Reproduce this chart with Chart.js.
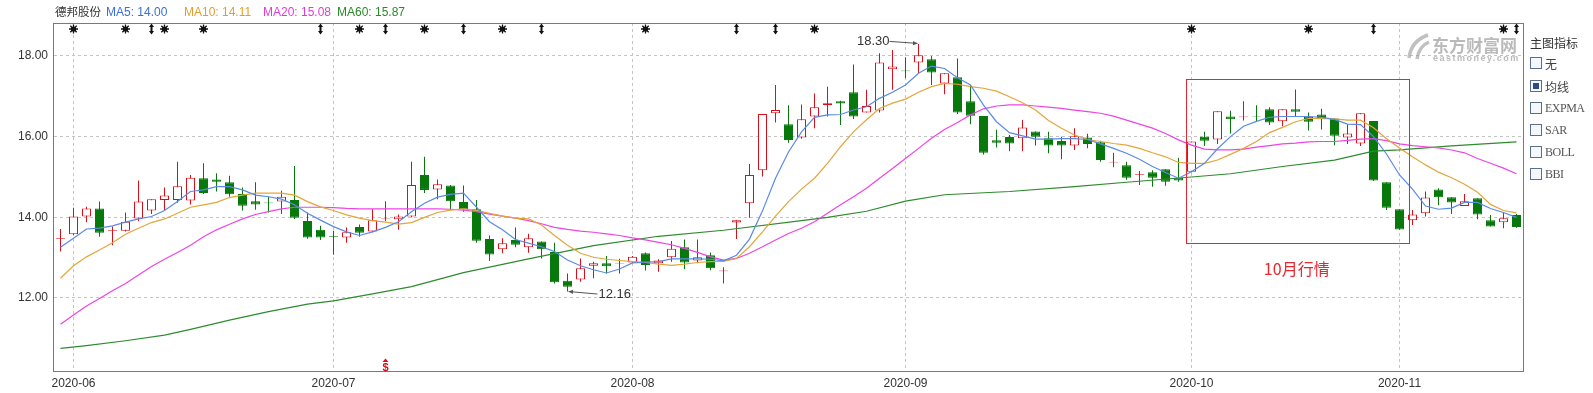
<!DOCTYPE html>
<html>
<head>
<meta charset="utf-8">
<script src="https://cdn.jsdelivr.net/npm/chart.js@4.4.1/dist/chart.umd.min.js"></script>
<style>
  html, body { margin: 0; padding: 0; background: #fff; }
  #wrap { position: relative; width: 1593px; height: 393px; font-family: "Liberation Sans", Arial, "Noto Sans CJK SC", sans-serif; }
  #c { position: absolute; left: 0; top: 0; }
  .lg { position: absolute; top: 5px; font-size: 12px; white-space: nowrap; line-height: 14px; }
  #panel { position: absolute; left: 1530px; top: 0; width: 63px; color: #333; }
  #panel .title { position: absolute; top: 34px; left: 0; font: 12px "Noto Sans CJK SC", sans-serif; white-space: nowrap; }
  #panel .row { position: absolute; left: 0; height: 12px; white-space: nowrap; }
  #panel .box { position: absolute; left: 0; top: 0; width: 10px; height: 10px; border: 1px solid #5a6f8e; background: #f4f7fb; }
  #panel .box.on::after { content: ""; position: absolute; left: 2px; top: 2px; width: 6px; height: 6px; background: #2d4a86; }
  #panel .txt { position: absolute; left: 15px; top: -2px; font: 12px "Noto Sans CJK SC", sans-serif; color: #444; }
  #panel .txt.en { font: 12px "Liberation Serif", serif; top: -1px; color: #555; letter-spacing: -0.5px; }
</style>
</head>
<body>
<div id="wrap">
  <canvas id="c" width="1593" height="393"></canvas>
  <div class="lg" style="left:55px;color:#333;font-family:'Noto Sans CJK SC';font-size:11.5px;top:4px">德邦股份</div>
  <div class="lg" style="left:106px;color:#3a6fd8">MA5: 14.00</div>
  <div class="lg" style="left:184px;color:#e0a030">MA10: 14.11</div>
  <div class="lg" style="left:263px;color:#e23ad6">MA20: 15.08</div>
  <div class="lg" style="left:337px;color:#2a8a2a">MA60: 15.87</div>
  <div id="panel">
    <div class="title">主图指标</div>
    <div class="row" style="top:57px"><div class="box"></div><div class="txt">无</div></div>
    <div class="row" style="top:80px"><div class="box on"></div><div class="txt">均线</div></div>
    <div class="row" style="top:102px"><div class="box"></div><div class="txt en">EXPMA</div></div>
    <div class="row" style="top:124px"><div class="box"></div><div class="txt en">SAR</div></div>
    <div class="row" style="top:146px"><div class="box"></div><div class="txt en">BOLL</div></div>
    <div class="row" style="top:168px"><div class="box"></div><div class="txt en">BBI</div></div>
  </div>
</div>
<script>
// 交易日（按月）
const tradeMonths = ["2020-05", "2020-06", "2020-07", "2020-08", "2020-09", "2020-10", "2020-11"];
const tradeDays = [
  [29],
  [1, 2, 3, 4, 5, 8, 9, 10, 11, 12, 15, 16, 17, 18, 19, 22, 23, 24, 29, 30],
  [1, 2, 3, 6, 7, 8, 9, 10, 13, 14, 15, 16, 17, 20, 21, 22, 23, 24, 27, 28, 29, 30, 31],
  [3, 4, 5, 6, 7, 10, 11, 12, 13, 14, 17, 18, 19, 20, 21, 24, 25, 26, 27, 28, 31],
  [1, 2, 3, 4, 7, 8, 9, 10, 11, 14, 15, 16, 17, 18, 21, 22, 23, 24, 25, 28, 29, 30],
  [9, 12, 13, 14, 15, 16, 19, 20, 21, 22, 23, 26, 27, 28, 29, 30],
  [2, 3, 4, 5, 6, 9, 10, 11, 12, 13],
];
// x轴显示的月份
const monthTicks = ["2020-06", "2020-07", "2020-08", "2020-09", "2020-10", "2020-11"];
const yTicks = [12, 14, 16, 18];

// K线 开/高/低/收
const openP = [13.47, 13.58, 14.02, 14.22, 13.66, 13.67, 13.97, 14.17, 14.43, 14.43, 14.42, 14.97, 14.94, 14.87, 14.58, 14.40, 14.37, 14.39, 14.43, 13.91,
  13.69, 13.53, 13.50, 13.76, 13.65, 13.95, 13.95, 14.02, 15.05, 14.69, 14.79, 14.38, 14.20, 13.46, 13.21, 13.44, 13.26, 13.40, 13.14, 12.43,
  12.46, 12.80, 12.86, 12.86, 12.88, 13.11, 12.86, 13.01, 13.26, 12.93, 13.06, 12.66, 13.87, 14.35, 15.17, 16.58, 16.31, 15.98, 16.50, 16.78,
  16.88, 17.10, 16.60, 16.65, 17.67, 17.64, 17.84, 17.92, 17.32, 17.47, 16.88, 16.51, 15.91, 15.99, 15.96, 16.13, 15.96, 15.89, 15.78, 15.98,
  15.86, 15.36, 15.29, 15.05, 15.12, 15.19, 14.98, 15.13, 16.00, 15.93, 16.50, 16.48, 16.50, 16.68, 16.38, 16.68, 16.50, 16.55, 16.45, 15.98,
  15.83, 16.39, 14.87, 14.20, 13.93, 14.10, 14.69, 14.50, 14.28, 14.47, 13.93, 13.88, 14.06];
const highP = [13.71, 14.24, 14.26, 14.39, 13.77, 14.12, 14.91, 14.45, 14.74, 15.38, 15.05, 15.34, 15.09, 15.03, 14.74, 14.87, 14.51, 14.66, 15.27, 14.12,
  13.79, 13.67, 13.75, 13.82, 14.20, 14.40, 14.07, 15.38, 15.50, 14.94, 14.80, 14.79, 14.43, 13.55, 13.48, 13.75, 13.59, 13.40, 13.37, 12.61,
  12.98, 12.90, 13.04, 12.97, 13.04, 13.13, 12.96, 13.41, 13.45, 13.45, 13.13, 12.76, 13.93, 15.32, 16.56, 17.28, 16.78, 16.80, 17.07, 17.24,
  16.89, 17.79, 17.16, 18.07, 18.15, 17.97, 18.30, 18.00, 17.57, 17.94, 17.28, 16.51, 16.17, 16.04, 16.41, 16.13, 16.12, 16.00, 16.21, 16.07,
  15.90, 15.60, 15.38, 15.15, 15.17, 15.19, 15.48, 15.88, 16.12, 16.63, 16.64, 16.88, 16.78, 16.73, 16.68, 17.17, 16.60, 16.69, 16.45, 16.31,
  16.58, 16.39, 14.87, 14.20, 14.18, 14.64, 14.72, 14.50, 14.58, 14.47, 14.06, 14.12, 14.08];
const lowP = [13.15, 13.56, 13.88, 13.52, 13.31, 13.65, 13.90, 14.08, 14.16, 14.36, 14.32, 14.58, 14.64, 14.51, 14.17, 14.19, 14.12, 14.08, 13.96, 13.47,
  13.44, 13.07, 13.37, 13.52, 13.63, 13.91, 13.69, 14.00, 14.60, 14.45, 14.18, 14.14, 13.37, 12.92, 13.11, 13.26, 13.12, 12.98, 12.36, 12.16,
  12.40, 12.49, 12.61, 12.61, 12.87, 12.68, 12.65, 12.90, 12.71, 12.86, 12.69, 12.36, 13.46, 13.99, 15.01, 16.35, 15.85, 15.95, 16.21, 16.50,
  16.29, 16.44, 16.60, 16.60, 17.16, 17.45, 17.57, 17.28, 17.05, 16.56, 16.31, 15.56, 15.73, 15.64, 15.64, 15.78, 15.59, 15.44, 15.67, 15.71,
  15.38, 15.24, 14.93, 14.80, 14.76, 14.78, 14.88, 15.12, 15.77, 15.82, 16.08, 16.40, 16.39, 16.29, 16.26, 16.51, 16.15, 16.18, 15.79, 15.82,
  15.77, 14.90, 14.18, 13.69, 13.81, 14.02, 14.30, 14.08, 14.28, 13.95, 13.77, 13.73, 13.74];
const closeP = [13.49, 14.02, 14.22, 13.62, 13.68, 13.89, 14.39, 14.45, 14.54, 14.77, 14.98, 14.60, 14.88, 14.57, 14.29, 14.32, 14.35, 14.51, 13.99, 13.50,
  13.50, 13.51, 13.63, 13.62, 13.93, 13.97, 14.02, 14.80, 14.68, 14.82, 14.40, 14.20, 13.42, 13.08, 13.36, 13.32, 13.48, 13.21, 12.39, 12.28,
  12.74, 12.86, 12.79, 12.85, 13.02, 12.82, 12.93, 13.22, 12.88, 13.01, 12.74, 12.68, 13.93, 15.05, 16.56, 16.66, 15.92, 16.43, 16.73, 16.83,
  16.82, 16.50, 16.76, 17.84, 17.74, 17.62, 18.02, 17.59, 17.57, 16.60, 16.52, 15.60, 15.85, 15.83, 16.23, 16.00, 15.78, 15.78, 16.01, 15.82,
  15.42, 15.38, 14.98, 15.07, 14.98, 14.88, 14.91, 15.88, 15.90, 16.63, 16.43, 16.50, 16.49, 16.35, 16.68, 16.62, 16.37, 16.43, 16.02, 16.08,
  16.58, 14.91, 14.24, 13.70, 14.07, 14.49, 14.50, 14.37, 14.40, 14.07, 13.77, 13.98, 13.76];

// 均线
const ma5 = [13.26, 13.48, 13.71, 13.73, 13.79, 13.88, 13.96, 14.02, 14.17, 14.39, 14.64, 14.68, 14.76, 14.76, 14.68, 14.55, 14.51, 14.45, 14.31, 14.10,
  13.93, 13.77, 13.64, 13.55, 13.64, 13.75, 13.89, 14.14, 14.35, 14.50, 14.57, 14.60, 14.25, 13.89, 13.69, 13.45, 13.36, 13.27, 13.15, 12.94,
  12.80, 12.70, 12.62, 12.72, 12.87, 12.89, 12.90, 12.97, 12.97, 12.97, 12.96, 12.92, 13.06, 13.46, 14.16, 14.97, 15.62, 16.12, 16.48, 16.54,
  16.55, 16.66, 16.74, 16.95, 17.10, 17.28, 17.57, 17.75, 17.69, 17.46, 17.28, 16.78, 16.37, 16.10, 16.02, 15.94, 15.94, 15.95, 15.95, 15.93,
  15.82, 15.71, 15.59, 15.44, 15.26, 15.11, 14.97, 15.13, 15.34, 15.70, 16.00, 16.26, 16.38, 16.48, 16.50, 16.50, 16.50, 16.48, 16.43, 16.31,
  16.30, 16.00, 15.57, 15.05, 14.70, 14.28, 14.20, 14.23, 14.37, 14.37, 14.22, 14.12, 14.00];
const ma10 = [12.49, 12.80, 13.02, 13.19, 13.37, 13.58, 13.73, 13.87, 13.96, 14.10, 14.25, 14.31, 14.37, 14.49, 14.55, 14.60, 14.60, 14.60, 14.55, 14.39,
  14.26, 14.17, 14.06, 13.98, 13.92, 13.88, 13.83, 13.87, 14.00, 14.12, 14.18, 14.21, 14.17, 14.10, 14.03, 13.98, 13.96, 13.81, 13.55, 13.31,
  13.11, 13.01, 12.96, 12.93, 12.90, 12.88, 12.84, 12.81, 12.84, 12.88, 12.90, 12.91, 12.98, 13.27, 13.64, 14.03, 14.39, 14.70, 14.97, 15.34,
  15.75, 16.12, 16.42, 16.70, 16.83, 16.93, 17.10, 17.24, 17.32, 17.30, 17.24, 17.20, 17.13, 16.99, 16.84, 16.66, 16.40, 16.21, 16.04, 15.93,
  15.88, 15.83, 15.79, 15.71, 15.60, 15.50, 15.36, 15.34, 15.34, 15.42, 15.56, 15.71, 15.88, 16.10, 16.23, 16.37, 16.45, 16.45, 16.44, 16.41,
  16.41, 16.22, 15.95, 15.72, 15.50, 15.30, 15.12, 14.98, 14.82, 14.62, 14.32, 14.17, 14.11];
const ma20 = [11.35, 11.58, 11.80, 11.99, 12.18, 12.36, 12.57, 12.78, 12.96, 13.13, 13.31, 13.52, 13.69, 13.83, 13.96, 14.07, 14.14, 14.21, 14.25, 14.25,
  14.25, 14.24, 14.22, 14.21, 14.21, 14.21, 14.21, 14.21, 14.21, 14.21, 14.20, 14.18, 14.14, 14.08, 14.03, 13.98, 13.92, 13.84, 13.75, 13.70,
  13.66, 13.63, 13.59, 13.55, 13.49, 13.44, 13.38, 13.32, 13.23, 13.13, 13.02, 12.94, 12.98, 13.11, 13.27, 13.44, 13.60, 13.73, 13.89, 14.10,
  14.31, 14.51, 14.72, 14.97, 15.21, 15.46, 15.71, 15.96, 16.18, 16.35, 16.54, 16.69, 16.76, 16.79, 16.79, 16.76, 16.73, 16.70, 16.66, 16.62,
  16.58, 16.51, 16.41, 16.31, 16.21, 16.08, 15.92, 15.79, 15.69, 15.67, 15.67, 15.69, 15.74, 15.78, 15.82, 15.84, 15.87, 15.88, 15.88, 15.91,
  15.94, 15.95, 15.90, 15.82, 15.78, 15.75, 15.72, 15.67, 15.60, 15.46, 15.34, 15.22, 15.08];
// MA60 较平滑，按读点位置给出
const ma60Idx = [0, 2, 5, 8, 10, 13, 16, 19, 21, 24, 27, 31, 36, 41, 46, 51, 57, 59, 62, 65, 68, 73, 78, 82, 87, 90, 94, 98, 101, 103, 107, 112];
const ma60Val = [10.75, 10.82, 10.94, 11.08, 11.22, 11.45, 11.66, 11.85, 11.93, 12.10, 12.28, 12.63, 12.97, 13.30, 13.53, 13.68, 13.92, 14.00, 14.15, 14.40, 14.56, 14.64, 14.76, 14.87, 15.00, 15.08, 15.26, 15.42, 15.64, 15.67, 15.77, 15.87];

// 顶部信号标记
const starIdx = [1, 5, 8, 11, 23, 28, 34, 45, 58, 87, 96, 111];
const arrowIdx = [7, 20, 25, 31, 37, 52, 55, 101, 112];
const dollarIdx = [25];

const labels = [];
const monthStart = {};
tradeMonths.forEach((m, k) => {
  tradeDays[k].forEach((d, j) => {
    if (j === 0) monthStart[labels.length] = m;
    labels.push(m + "-" + String(d).padStart(2, "0"));
  });
});
const isMonthTick = (i) => monthStart[i] !== undefined && monthTicks.includes(monthStart[i]);

const RED = "#d6111b";
const GREEN = "#08780c";
const isUp = (i) => closeP[i] >= openP[i];

const overlay = {
  id: "overlay",
  beforeDatasetsDraw(chart) {
    // 水印
    const ctx = chart.ctx;
    ctx.save();
    ctx.strokeStyle = "rgba(150,150,150,0.6)";
    ctx.lineWidth = 3.5;
    ctx.beginPath();
    ctx.moveTo(1409, 58); ctx.quadraticCurveTo(1411, 41, 1428, 35);
    ctx.moveTo(1417, 59); ctx.quadraticCurveTo(1419, 46, 1429, 42);
    ctx.stroke();
    ctx.fillStyle = "rgba(140,140,140,0.6)";
    ctx.font = "bold 17px 'Noto Sans CJK SC'";
    ctx.textBaseline = "middle";
    ctx.fillText("东方财富网", 1432, 46);
    ctx.font = "bold 9px 'Liberation Sans'";
    ctx.letterSpacing = "1.5px";
    ctx.fillText("eastmoney.com", 1433, 59);
    ctx.restore();
  },
  afterDraw(chart) {
    const { ctx, chartArea: a, scales: { x, y } } = chart;
    const px = (i) => x.getPixelForValue(i);
    ctx.save();
    // 边框（比绘图区各宽 1px）
    ctx.strokeStyle = "#7a7a7a";
    ctx.lineWidth = 1;
    ctx.strokeRect(a.left - 0.5, a.top + 0.5, a.right - a.left + 1, a.bottom - a.top - 1);

    // 顶部标记
    ctx.fillStyle = "#111";
    ctx.strokeStyle = "#111";
    const ty = a.top + 6;
    starIdx.forEach((i) => {
      const cx = px(i);
      ctx.lineWidth = 1.3;
      ctx.beginPath();
      for (let k = 0; k < 4; k++) {
        const ang = (k * Math.PI) / 4;
        ctx.moveTo(cx - 4.5 * Math.cos(ang), ty - 4.5 * Math.sin(ang));
        ctx.lineTo(cx + 4.5 * Math.cos(ang), ty + 4.5 * Math.sin(ang));
      }
      ctx.stroke();
      ctx.beginPath();
      ctx.arc(cx, ty, 2.6, 0, Math.PI * 2);
      ctx.fill();
    });
    arrowIdx.forEach((i) => {
      const cx = px(i);
      ctx.lineWidth = 2;
      ctx.beginPath();
      ctx.moveTo(cx, ty - 3); ctx.lineTo(cx, ty + 3);
      ctx.stroke();
      ctx.beginPath();
      ctx.moveTo(cx - 2.5, ty - 2); ctx.lineTo(cx + 2.5, ty - 2); ctx.lineTo(cx, ty - 5.5); ctx.closePath();
      ctx.moveTo(cx - 2.5, ty + 2); ctx.lineTo(cx + 2.5, ty + 2); ctx.lineTo(cx, ty + 5.5); ctx.closePath();
      ctx.fill();
    });

    // 底部 $ 标记
    dollarIdx.forEach((i) => {
      const cx = px(i);
      ctx.fillStyle = RED;
      ctx.beginPath();
      ctx.moveTo(cx - 3, a.bottom - 10); ctx.lineTo(cx + 3, a.bottom - 10); ctx.lineTo(cx, a.bottom - 13.5); ctx.closePath();
      ctx.fill();
      ctx.font = "bold 11px 'Liberation Sans'";
      ctx.textAlign = "center";
      ctx.textBaseline = "middle";
      ctx.fillText("$", cx, a.bottom - 4);
    });

    // 最高 / 最低价标注
    const hi = Math.max(...highP), hiI = highP.indexOf(hi);
    const lo = Math.min(...lowP), loI = lowP.indexOf(lo);
    ctx.strokeStyle = "#555";
    ctx.fillStyle = "#555";
    ctx.lineWidth = 1;
    const arrow = (x0, y0, x1, y1) => {
      ctx.beginPath(); ctx.moveTo(x0, y0); ctx.lineTo(x1, y1); ctx.stroke();
      const ang = Math.atan2(y1 - y0, x1 - x0);
      ctx.beginPath();
      ctx.moveTo(x1, y1);
      ctx.lineTo(x1 - 5 * Math.cos(ang - 0.45), y1 - 5 * Math.sin(ang - 0.45));
      ctx.lineTo(x1 - 5 * Math.cos(ang + 0.45), y1 - 5 * Math.sin(ang + 0.45));
      ctx.closePath(); ctx.fill();
    };
    const hx = px(hiI), hy = y.getPixelForValue(hi);
    arrow(hx - 29, hy - 2.5, hx - 1, hy - 0.5);
    const lx = px(loI), ly = y.getPixelForValue(lo);
    arrow(lx + 30, ly + 2.5, lx + 1, ly);
    ctx.fillStyle = "#333";
    ctx.font = "13px 'Liberation Sans'";
    ctx.textBaseline = "middle";
    ctx.textAlign = "right";
    ctx.fillText(hi.toFixed(2), hx - 29, hy - 2);
    ctx.textAlign = "left";
    ctx.fillText(lo.toFixed(2), lx + 31, ly + 2.5);

    // 10月行情 方框
    const bx0 = px(87) - 6, bx1 = px(103) + 8.5;
    const by0 = y.getPixelForValue(17.43), by1 = y.getPixelForValue(13.36);
    ctx.strokeStyle = "#e8262e";
    ctx.lineWidth = 1;
    ctx.strokeRect(Math.round(bx0) + 0.5, Math.round(by0) + 0.5, Math.round(bx1 - bx0), Math.round(by1 - by0));
    ctx.fillStyle = "#e8262e";
    ctx.font = "16px 'Noto Sans CJK SC'";
    ctx.textAlign = "center";
    ctx.fillText("10月行情", (bx0 + bx1) / 2, by1 + 26);
    ctx.restore();
  },
};

new Chart(document.getElementById("c"), {
  type: "bar",
  data: {
    labels: labels,
    datasets: [
      {
        type: "line", label: "MA5", data: ma5, borderColor: "#5b8ae6", borderWidth: 1.2,
        pointRadius: 0, tension: 0, order: 1,
      },
      {
        type: "line", label: "MA10", data: ma10, borderColor: "#e3a63b", borderWidth: 1.2,
        pointRadius: 0, tension: 0, order: 1,
      },
      {
        type: "line", label: "MA20", data: ma20, borderColor: "#ee44e4", borderWidth: 1.2,
        pointRadius: 0, tension: 0, order: 1,
      },
      {
        type: "line", label: "MA60", data: ma60Idx.map((i, k) => ({ x: labels[i], y: ma60Val[k] })),
        borderColor: "#2e8b2e", borderWidth: 1.2, pointRadius: 0, tension: 0, spanGaps: true, order: 1,
      },
      {
        label: "body",
        data: labels.map((_, i) => [openP[i], closeP[i]]),
        backgroundColor: labels.map((_, i) => (isUp(i) ? "#ffffff" : GREEN)),
        borderColor: labels.map((_, i) => (isUp(i) ? RED : GREEN)),
        borderWidth: 1, borderSkipped: false, barThickness: 9, grouped: false, inflateAmount: 0, order: 2,
      },
      {
        label: "wick",
        data: labels.map((_, i) => [lowP[i], highP[i]]),
        backgroundColor: labels.map((_, i) => (isUp(i) ? RED : GREEN)),
        borderWidth: 0, barThickness: 1, grouped: false, inflateAmount: 0, order: 3,
      },
    ],
  },
  options: {
    responsive: false,
    animation: false,
    // 绘图区 54..1523，每根K线 13px，中心落在半像素上
    layout: { padding: { left: 0, right: 70, top: 23, bottom: 0 } },
    plugins: { legend: { display: false }, tooltip: { enabled: false } },
    scales: {
      x: {
        type: "category",
        offset: true,
        grid: {
          offset: false, drawTicks: false,
          color: (c) => (isMonthTick(c.index) ? "#c4c4c4" : "rgba(0,0,0,0)"),
        },
        border: { display: false, dash: [3, 3] },
        ticks: {
          autoSkip: false, maxRotation: 0, padding: 4, color: "#333",
          font: { size: 12, family: "'Liberation Sans'" },
          callback: (v, i) => (isMonthTick(i) ? monthStart[i] : ""),
        },
        afterFit: (s) => { s.height = 21; },
      },
      y: {
        min: 10.165,
        max: 18.818,
        afterBuildTicks: (s) => { s.ticks = yTicks.map((v) => ({ value: v })); },
        grid: { color: "#c4c4c4", drawTicks: false },
        border: { display: false, dash: [3, 3] },
        ticks: {
          padding: 6, color: "#333", font: { size: 12, family: "'Liberation Sans'" },
          callback: (v) => Number(v).toFixed(2),
        },
        afterFit: (s) => { s.width = 54; },
      },
    },
  },
  plugins: [overlay],
});
</script>
</body>
</html>
